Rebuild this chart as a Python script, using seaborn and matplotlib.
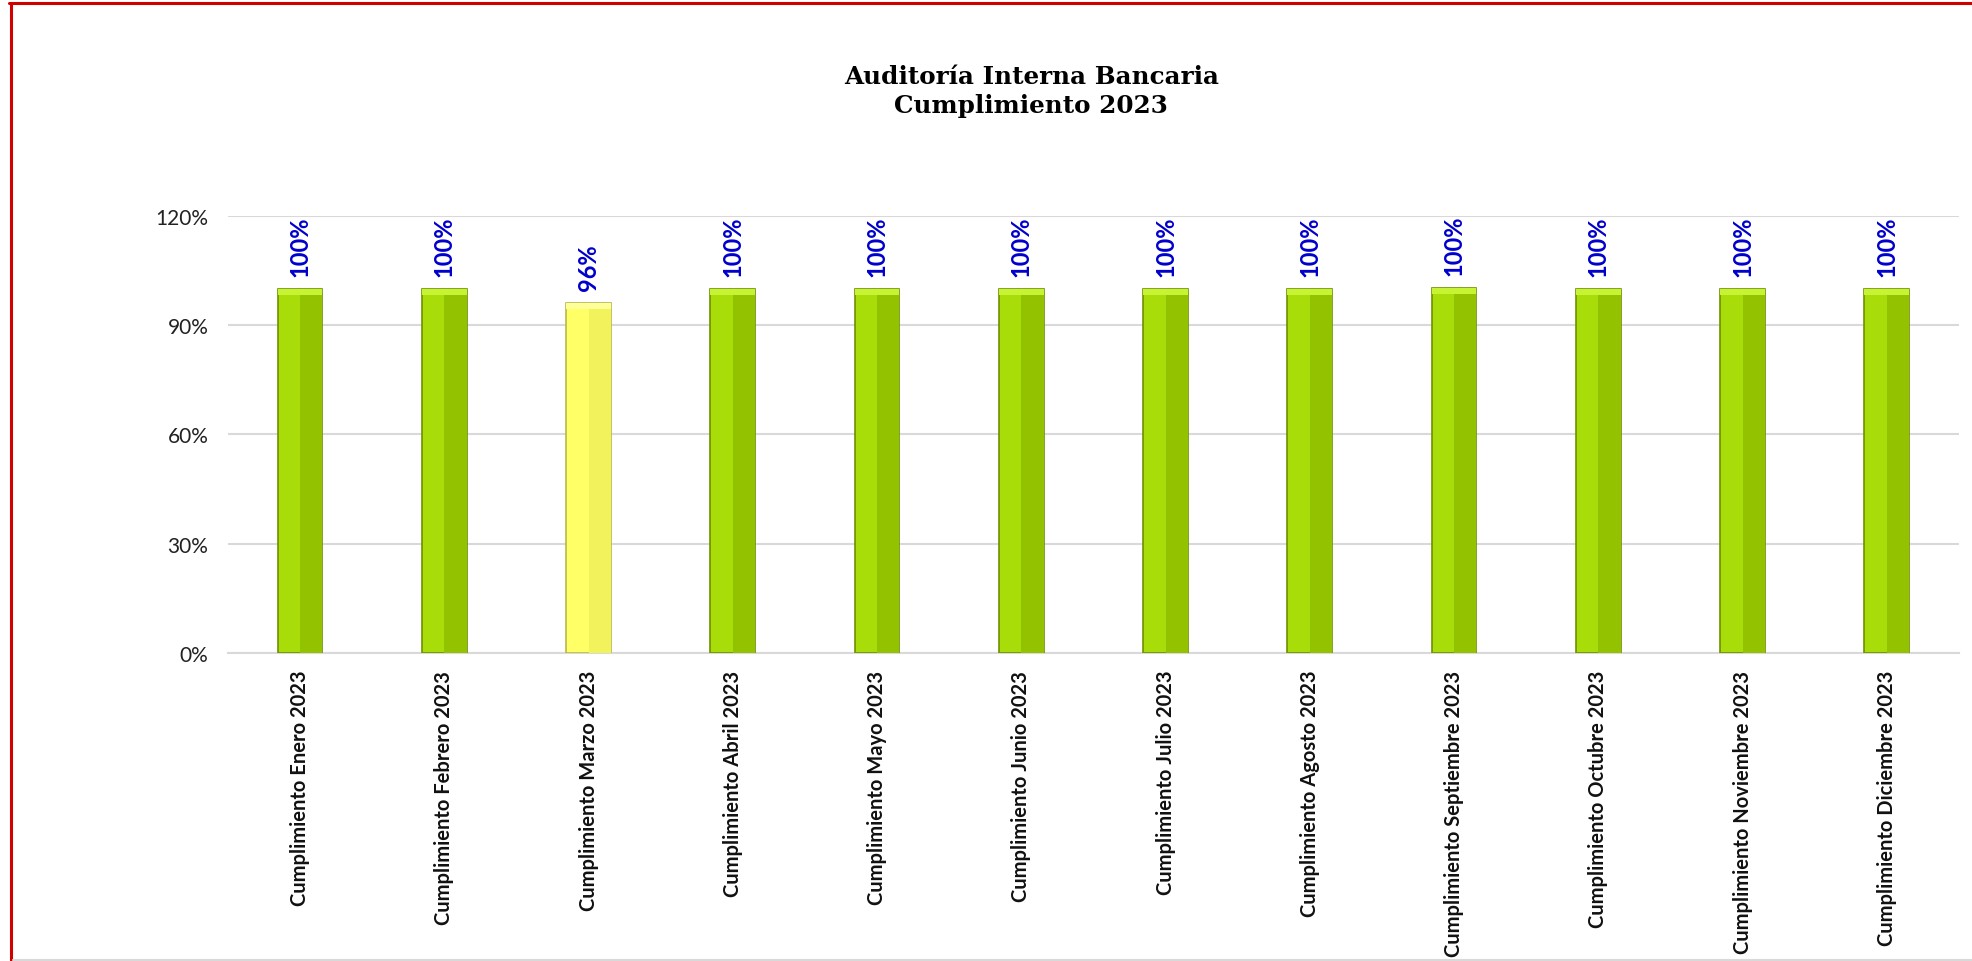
import matplotlib
matplotlib.use("Agg")
import matplotlib.pyplot as plt
from matplotlib.patches import Rectangle
from matplotlib.ticker import PercentFormatter, MultipleLocator
import seaborn as sns
import pandas as pd

# data
meses = ["Cumplimiento Enero 2023", "Cumplimiento Febrero 2023", "Cumplimiento Marzo 2023",
         "Cumplimiento Abril 2023", "Cumplimiento Mayo 2023", "Cumplimiento Junio 2023",
         "Cumplimiento Julio 2023", "Cumplimiento Agosto 2023", "Cumplimiento Septiembre 2023",
         "Cumplimiento Octubre 2023", "Cumplimiento Noviembre 2023", "Cumplimiento Diciembre 2023"]
cumplimiento = [1.00, 1.00, 0.961, 1.00, 1.00, 1.00, 1.00, 1.00, 1.003, 1.00, 1.00, 1.00]
etiquetas = ["100%", "100%", "96%", "100%", "100%", "100%", "100%", "100%", "100%", "100%", "100%", "100%"]

titulo = "Auditoría Interna Bancaria\nCumplimiento 2023"

verde = "#A8DD0A"
amarillo = "#FFFF66"


def main():
    sns.set_style("white")
    plt.rcParams['font.family'] = ['Lato', 'DejaVu Sans']

    df = pd.DataFrame({"mes": meses, "valor": cumplimiento, "etiqueta": etiquetas})
    colores = [verde if v >= 0.98 else amarillo for v in df["valor"]]

    fig = plt.figure(figsize=(19.72, 9.62), dpi=100)
    ax = fig.add_axes([0.1156, 0.3202, 0.8778, 0.4542])

    sns.barplot(data=df, x="mes", y="valor", hue="mes", palette=colores, legend=False,
                width=0.31, saturation=1, ax=ax, zorder=3)

    # fake the excel bevel: darker right half and a light top cap
    for patch, c in zip(ax.patches, colores):
        x, w, h = patch.get_x(), patch.get_width(), patch.get_height()
        oscuro = "#92C200" if c == verde else "#F2F25C"
        borde = "#6E9000" if c == verde else "#B8B84A"
        patch.set_edgecolor(borde)
        patch.set_linewidth(1.2)
        ax.add_patch(Rectangle((x + w * 0.5, 0), w * 0.5, h, facecolor=oscuro,
                               edgecolor="none", zorder=3.5))
        tapa = "#C6F432" if c == verde else "#FFFF99"
        ax.add_patch(Rectangle((x, h - 0.016), w, 0.016, facecolor=tapa,
                               edgecolor="none", zorder=3.6))

    # data labels, rotated, in blue
    for i, (v, t) in enumerate(zip(df["valor"], df["etiqueta"])):
        ax.text(i, v + 0.035, t, rotation=90, ha="center", va="bottom",
                color="#0000CC", fontsize=17, fontweight="bold", zorder=5)

    ax.set_ylim(0, 1.2)
    ax.set_xlim(-0.5, len(meses) - 0.5)
    ax.yaxis.set_major_locator(MultipleLocator(0.3))
    ax.yaxis.set_major_formatter(PercentFormatter(1.0, decimals=0))
    ax.grid(axis="y", color="#D9D9D9", linewidth=1.5, zorder=0)
    ax.grid(axis="x", visible=False)
    for s in ["top", "right", "left"]:
        ax.spines[s].set_visible(False)
    ax.spines["bottom"].set_color("#D9D9D9")
    ax.spines["bottom"].set_linewidth(1.5)

    ax.set_xlabel("")
    ax.set_ylabel("")
    ax.tick_params(axis="y", length=0, labelsize=15, pad=14, labelcolor="#222222")
    ax.tick_params(axis="x", length=0, pad=12)
    ax.set_xticks(range(len(meses)))
    ax.set_xticklabels(meses, rotation=90, ha="center", va="top",
                       fontsize=14.5, fontweight="bold", color="#111111")

    fig.text(0.523, 0.905, titulo, ha="center", va="center", fontsize=17.7,
             fontweight="bold", family="DejaVu Serif", linespacing=1.3, color="black")

    # red frame of the original sheet
    fig.add_artist(plt.Line2D([0.0055, 0.0055], [0, 0.996], color="#D00000", linewidth=2.2,
                              transform=fig.transFigure))
    fig.add_artist(plt.Line2D([0.0045, 1], [0.9955, 0.9955], color="#D00000", linewidth=2.2,
                              transform=fig.transFigure))
    fig.add_artist(plt.Line2D([0.0065, 1], [0.001, 0.001], color="#D9D9D9", linewidth=1.5,
                              transform=fig.transFigure))

    fig.savefig("out.png", dpi=100)


if __name__ == '__main__':
    main()
